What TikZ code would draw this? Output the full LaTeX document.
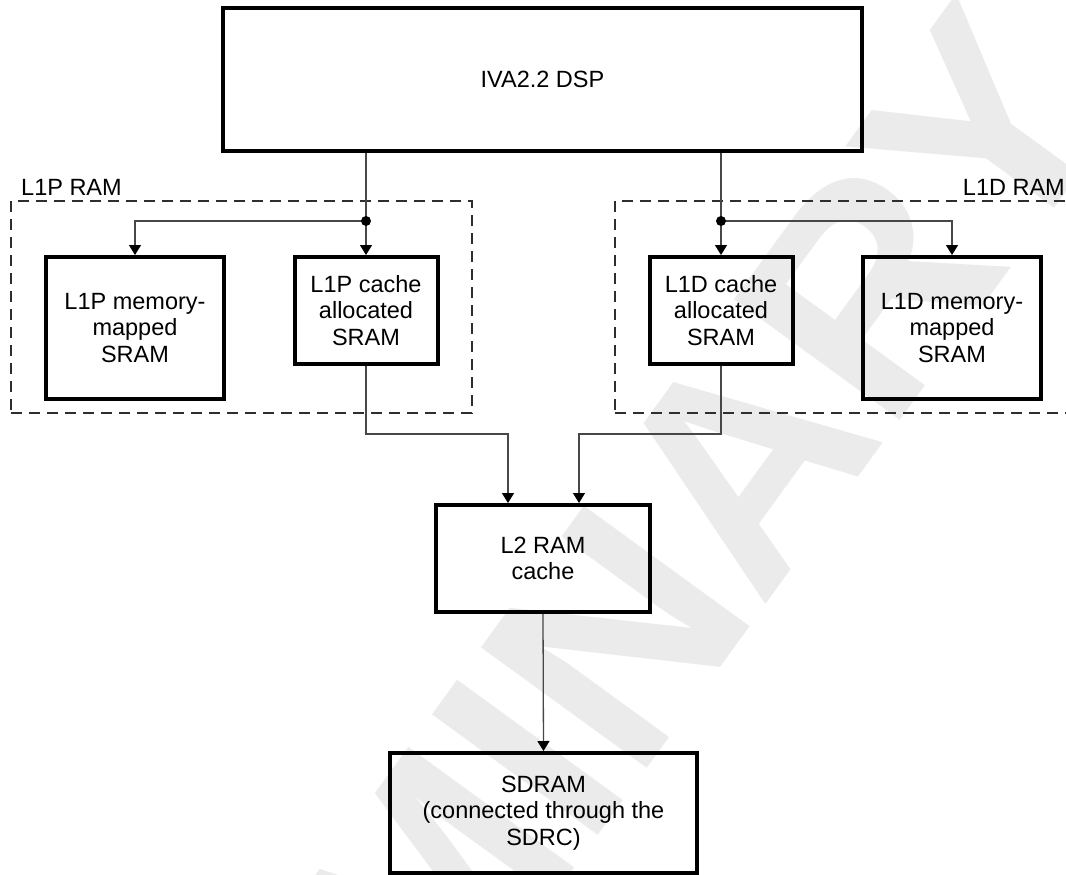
\documentclass[tikz,border=0pt]{standalone}
\usepackage{fontspec}
\setmainfont{Liberation Sans}
\usetikzlibrary{arrows.meta}
\begin{document}
\begin{tikzpicture}[x=1pt,y=-1pt,
  blk/.style={draw=black, line width=4pt, align=center, inner sep=0pt, font=\fontsize{23.5}{26.5}\selectfont},
  grp/.style={draw=black!82, line width=2.2pt, dash pattern=on 11pt off 7pt, inner sep=0pt},
  conn/.style={draw=black!72, line width=1.3pt},
  arr/.style={conn, -{Triangle[width=12pt,length=10pt,color=black]}},
  lbl/.style={font=\fontsize{23.5}{26.5}\selectfont, inner sep=0pt},
  jdot/.style={circle, fill=black, inner sep=0pt, minimum size=10pt},
  wmark/.style={rotate=54, anchor=base east, text=black!8, inner sep=0pt, font=\fontsize{298}{298}\selectfont\bfseries}]
\useasboundingbox (0,0) rectangle (1066,875);
\begin{scope}
  \clip (0,0) rectangle (1066,875);
  \node[wmark] (wm) at (1125,110) {PRELIMINARY};
\end{scope}
% groups
\node[grp, minimum width=461pt, minimum height=212pt] (l1p) at (241.5,307) {};
\node[grp, minimum width=461pt, minimum height=212pt] (l1d) at (845.5,307) {};
\node[lbl, anchor=base west] (l1plbl) at (21,195) {L1P RAM};
\node[lbl, anchor=base east] (l1dlbl) at (1065,195) {L1D RAM};
% blocks
\node[blk, minimum width=639pt, minimum height=143pt] (dsp) at (542.5,79.5) {IVA2.2 DSP};
\node[blk, minimum width=178pt, minimum height=142pt] (l1pm) at (135,328) {L1P memory-\\mapped\\SRAM};
\node[blk, minimum width=143pt, minimum height=107pt] (l1pc) at (366,310.5) {L1P cache\\allocated\\SRAM};
\node[blk, minimum width=143pt, minimum height=107pt] (l1dc) at (721,310.5) {L1D cache\\allocated\\SRAM};
\node[blk, minimum width=178pt, minimum height=142pt] (l1dm) at (952,328) {L1D memory-\\mapped\\SRAM};
\node[blk, minimum width=214pt, minimum height=107pt] (l2) at (543,558.5) {L2 RAM\\cache};
\node[blk, minimum width=307pt, minimum height=120pt] (sdram) at (543.5,813) {SDRAM\\(connected through the\\SDRC)};
% junctions
\coordinate (j1) at (366,221);
\coordinate (j2) at (721,221);
\coordinate (bl) at (366,434);
\coordinate (br) at (721,434);
\draw[conn] (dsp.south -| j1) -- (j1);
\draw[conn] (dsp.south -| j2) -- (j2);
\draw[arr] (j1) -- (l1pc.north);
\draw[arr] (j1) -| (l1pm.north);
\draw[arr] (j2) -- (l1dc.north);
\draw[arr] (j2) -| (l1dm.north);
\node[jdot] (d1) at (j1) {};
\node[jdot] (d2) at (j2) {};
\draw[arr] (l1pc.south) -- (bl) -| ([xshift=-35pt]l2.north);
\draw[arr] (l1dc.south) -- (br) -| ([xshift=36pt]l2.north);
\draw[arr] (l2.south) -- (sdram.north);
\end{tikzpicture}
\end{document}
